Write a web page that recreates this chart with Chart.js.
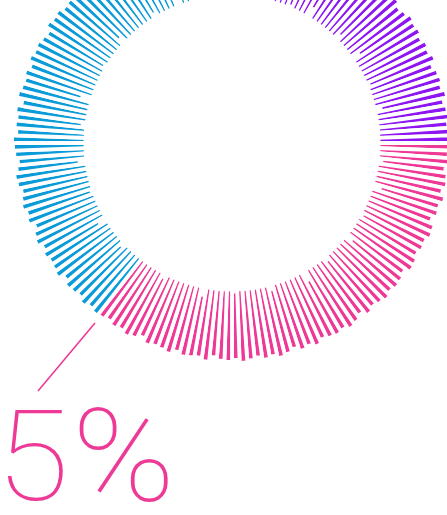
<!DOCTYPE html>
<html>
<head>
<meta charset="utf-8">
<script src="https://cdn.jsdelivr.net/npm/chart.js@4.4.0/dist/chart.umd.min.js"></script>
<style>
  html, body { margin: 0; padding: 0; background: #fff; overflow: hidden; width: 447px; height: 515px; }
  #ring { position: absolute; left: 12px; top: -77px; width: 440px; height: 440px; }
  #note { position: absolute; left: 0; top: 0; }
</style>
</head>
<body>
<div id="ring"><canvas id="ringChart"></canvas></div>
<svg id="note" width="447" height="515">
  <line x1="95" y1="323" x2="38" y2="391" stroke="#EE3A96" stroke-width="1.6"/>
  <text transform="translate(-4,500) scale(1.06,1)" fill="#EE3A96" font-family="Roboto, Lato, sans-serif" font-weight="100" font-size="126">5</text>
  <text transform="translate(72,501) scale(1.1,1.03)" fill="#EE3A96" font-family="Roboto, Lato, sans-serif" font-weight="100" font-size="126">%</text>
</svg>
<script>
// three colour groups, clockwise from 12 o'clock, one tick every 2 degrees
const groups = ['purple', 'pink', 'blue'];
const groupColors = ['#8E16F2', '#EE3A96', '#0A9BD8'];

// where each tick ends (outer) on the radial scale
const purpleEnd = [
  219, 216, 219, 220, 217, 218, 215, 219, 220, 217,
  218, 214, 219, 217, 220, 218, 216, 219, 217, 214,
  219, 220, 216, 218, 219, 215, 217, 220, 218, 219,
  216, 219, 217, 220, 215, 218, 219, 217, 220, 216,
  218, 219, 217, 220, 218
];
const pinkEnd = [
  219, 217, 220, 215, 218, 219, 216, 220, 217, 218,
  214, 219, 220, 217, 218, 216, 219, 220, 215, 218,
  219, 217, 220, 218, 216, 219, 214, 218, 220, 217,
  219, 218, 216, 220, 217, 219, 215, 218, 220, 217,
  219, 216, 218, 220, 217, 219, 218, 215, 220, 217,
  218, 219, 216, 220, 218, 217, 219, 214, 218, 220,
  217, 219, 216, 218
];
const blueEnd = [
  219, 217, 220, 216, 218, 219, 215, 220, 218, 217,
  219, 216, 220, 218, 214, 219, 217, 220, 218, 216,
  219, 220, 217, 215, 218, 219, 220, 216, 218, 217,
  219, 214, 220, 218, 217, 219, 216, 220, 218, 219,
  217, 215, 220, 218, 219, 216, 217, 220, 218, 219,
  215, 218, 220, 217, 219, 216, 218, 220, 217, 219,
  214, 218, 220, 217, 219, 216, 218, 220, 217, 219,
  218
];

// where each tick starts (inner)
const purpleStart = [
  148, 148, 152, 148, 148, 148, 155, 148, 148, 148,
  148, 150, 148, 148, 148, 158, 148, 148, 148, 148,
  148, 148, 153, 148, 148, 148, 148, 156, 148, 148,
  148, 148, 148, 150, 148, 148, 148, 148, 154, 148,
  148, 148, 148, 148, 148
];
const pinkStart = [
  148, 148, 148, 152, 148, 148, 148, 148, 156, 148,
  148, 148, 148, 148, 150, 148, 148, 148, 148, 155,
  148, 148, 148, 148, 148, 152, 148, 148, 148, 148,
  158, 148, 148, 148, 148, 148, 148, 153, 148, 148,
  148, 148, 148, 148, 150, 148, 148, 148, 148, 148,
  156, 148, 148, 148, 148, 148, 148, 148, 152, 148,
  148, 148, 148, 148
];
const blueStart = [
  148, 148, 148, 148, 152, 148, 148, 148, 148, 148,
  156, 148, 148, 148, 148, 148, 150, 148, 148, 148,
  148, 148, 155, 148, 148, 148, 148, 148, 148, 152,
  148, 148, 148, 148, 158, 148, 148, 148, 148, 148,
  148, 150, 148, 148, 148, 148, 148, 154, 148, 148,
  148, 148, 148, 148, 148, 152, 148, 148, 148, 148,
  156, 148, 148, 148, 148, 148, 150, 148, 148, 160,
  148
];

const groupEnds = [purpleEnd, pinkEnd, blueEnd];
const groupStarts = [purpleStart, pinkStart, blueStart];

const labels = [];
const ends = [];
const starts = [];
const colors = [];
groups.forEach((g, gi) => {
  groupEnds[gi].forEach((v, i) => {
    labels.push(g + ' ' + (i + 1));
    ends.push(v);
    starts.push(groupStarts[gi][i]);
    colors.push(groupColors[gi]);
  });
});

const ctx = document.getElementById('ringChart').getContext('2d');
new Chart(ctx, {
  type: 'polarArea',
  data: {
    labels: labels,
    datasets: [
      { label: 'start', data: starts, backgroundColor: '#ffffff', borderColor: '#ffffff', borderWidth: 1, order: 0 },
      { label: 'ticks', data: ends, backgroundColor: colors, borderColor: '#ffffff', borderWidth: 3.8, order: 1 }
    ]
  },
  options: {
    responsive: true,
    maintainAspectRatio: false,
    animation: false,
    events: [],
    layout: { padding: 0 },
    plugins: { legend: { display: false }, tooltip: { enabled: false } },
    scales: { r: { display: false, min: 0, max: 220 } }
  }
});
</script>
</body>
</html>
